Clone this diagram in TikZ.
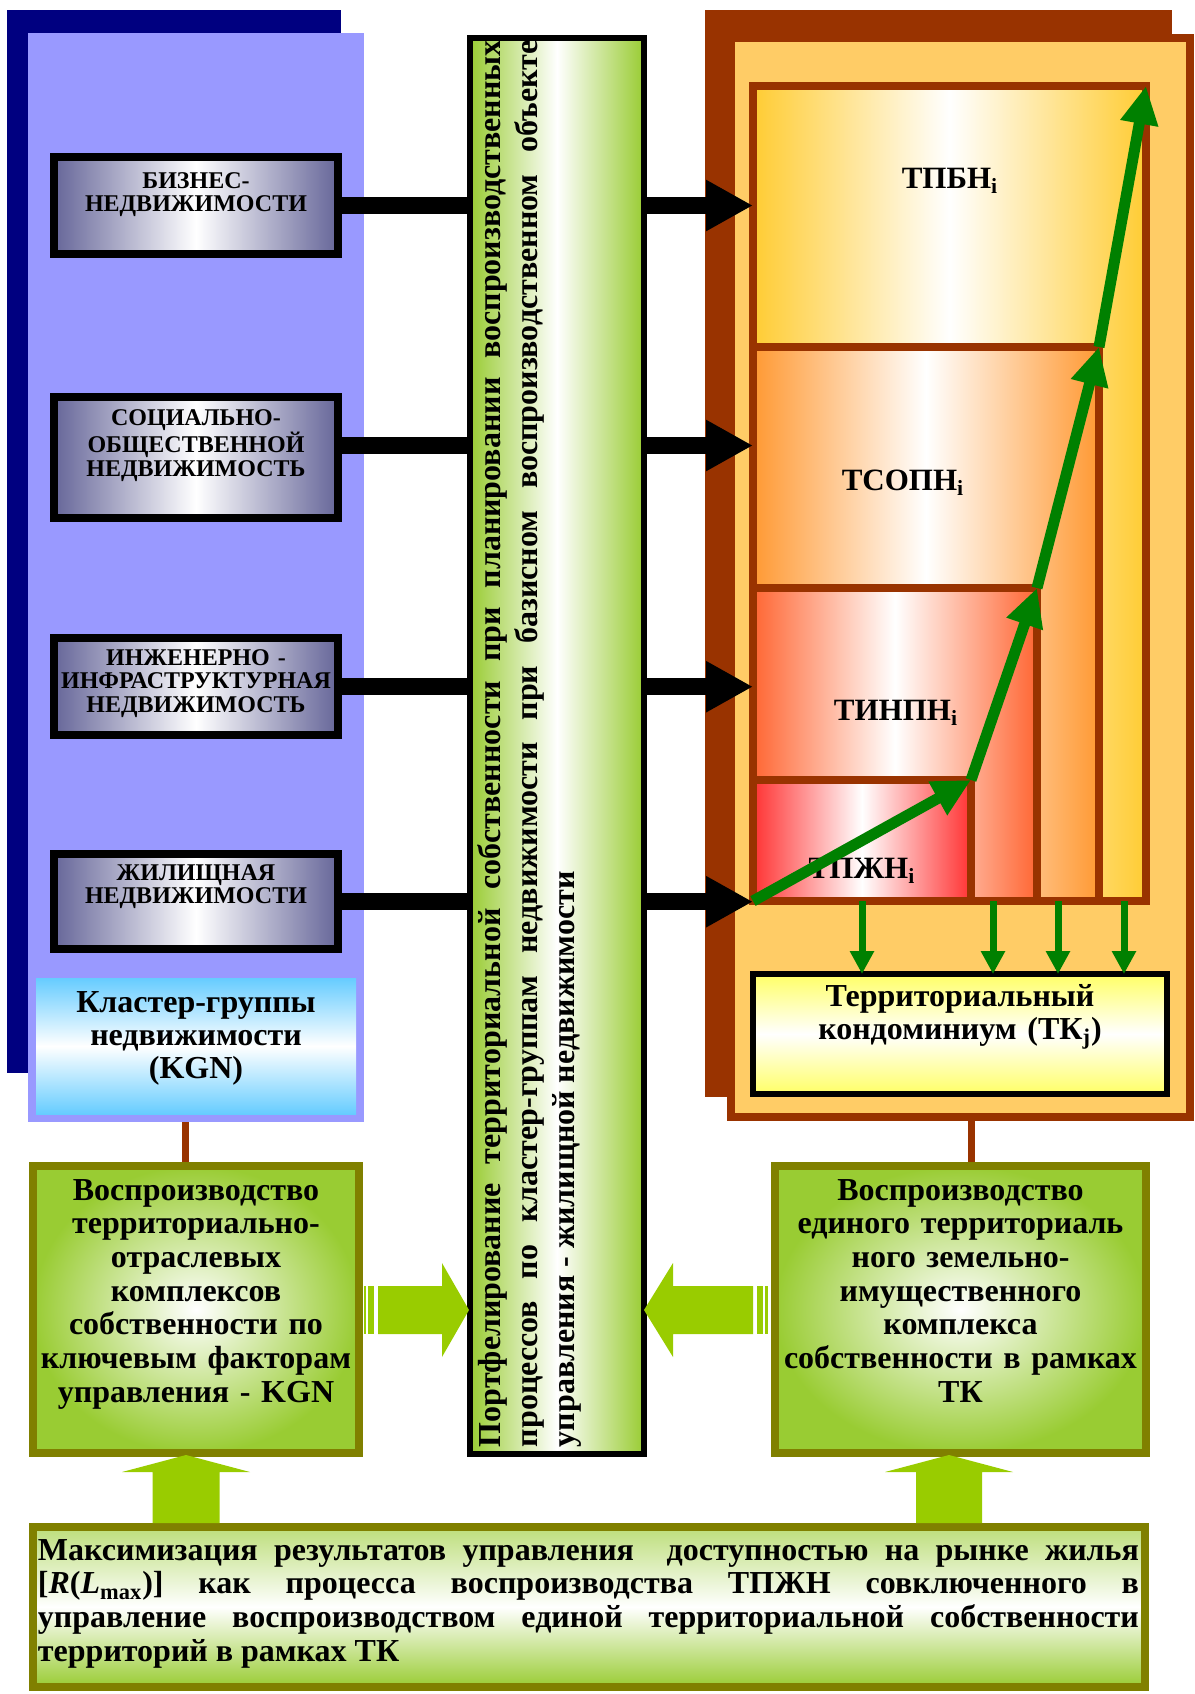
\documentclass[tikz,border=0pt]{standalone}
\usepackage{fontspec}
\setmainfont{Liberation Serif}
\usetikzlibrary{arrows.meta,calc}

\definecolor{navy}{HTML}{000080}
\definecolor{lavender}{HTML}{9999FF}
\definecolor{slate}{HTML}{666699}
\definecolor{sky}{HTML}{66CCFF}
\definecolor{lime}{HTML}{99CC33}
\definecolor{oliveline}{HTML}{808000}
\definecolor{rust}{HTML}{993300}
\definecolor{peach}{HTML}{FFCC66}
\definecolor{gold}{HTML}{FFCC33}
\definecolor{amber}{HTML}{FF9933}
\definecolor{tangerine}{HTML}{FF6633}
\definecolor{scarlet}{HTML}{FF3333}
\definecolor{lemon}{HTML}{FFFF66}
\definecolor{leaf}{HTML}{008000}
\definecolor{chartreuse}{HTML}{99CC00}

\begin{document}
\begin{tikzpicture}[x=0.5pt,y=-0.5pt,
  every node/.style={inner sep=0pt, outer sep=0pt},
  greybox/.style={draw=black, line width=4pt, left color=slate, right color=slate, middle color=white, minimum width=142pt},
  greytext/.style={anchor=base, text width=150pt, align=center, font=\fontsize{12}{11.75}\selectfont\bfseries},
  bigtext/.style={anchor=base, text width=#1, align=center, font=\fontsize{16}{16.85}\selectfont\bfseries},
  tier/.style={draw=rust, line width=4pt},
  tierlabel/.style={anchor=base, font=\fontsize{15.5}{18}\selectfont\bfseries},
  flow/.style={draw=black, line width=8.5pt, -{Triangle[length=23.5pt,width=24pt]}},
  rise/.style={draw=leaf, line width=5.5pt, -{Triangle[length=19pt,width=18pt]}},
  drop/.style={draw=leaf, line width=3.5pt, -{Triangle[length=11.5pt,width=11.5pt]}},
  tie/.style={draw=rust, line width=3.5pt},
  greenbox/.style={draw=oliveline, line width=4pt, inner color=white, outer color=lime},
  block/.style={fill=chartreuse},
]
\useasboundingbox (0,0) rectangle (1195,1694);

% ---- ends of the ties between the panels and the green boxes
\coordinate (tieL) at (185.5,1112);
\coordinate (tieR) at (971.5,1100);

% ---- ties (drawn under the panels)
\draw[tie] (tieL) -- (185.5,1162) coordinate (tieLend);
\draw[tie] (tieR) -- (971.5,1162) coordinate (tieRend);

% ---- left panel
\fill[navy] (7,10) rectangle (341,1073);
\fill[lavender] (28,33) rectangle (364,1122);

% ---- right panel
\fill[rust] (705,10) rectangle (1172,1097);
\draw[rust, fill=peach, line width=4pt] (731,37.5) rectangle (1189.5,1117);

% ---- stacked property tiers
\node[tier, left color=gold, right color=gold, middle color=white,
      minimum width=196.5pt, minimum height=407.5pt] (r1) at (949.5,493.5) {};
\node[tier, left color=amber, right color=amber, middle color=white,
      minimum width=173pt, minimum height=277pt] (r2) at (926,624) {};
\node[tier, left color=tangerine, right color=tangerine, middle color=white,
      minimum width=142pt, minimum height=156.5pt] (r3) at (895,744.5) {};
\node[tier, left color=scarlet, right color=scarlet, middle color=white,
      minimum width=109pt, minimum height=60.5pt] (r4) at (862,840.5) {};

\node[tierlabel] (l1) at (950,188) {ТПБН\textsubscript{i}};
\node[tierlabel] (l2) at (903,490) {ТСОПН\textsubscript{i}};
\node[tierlabel] (l3) at (896,720) {ТИНПН\textsubscript{i}};
\node[tierlabel] (l4) at (862,878) {ТПЖН\textsubscript{i}};

% ---- condominium box
\node[draw=black, line width=3pt, top color=lemon, bottom color=lemon, middle color=white,
      minimum width=207pt, minimum height=60pt] (tk) at (960,1034) {};
\node[bigtext=205pt, font=\fontsize{16}{16.5}\selectfont\bfseries] (tktext) at (960,1006)
  {Территориальный\\кондоминиум (ТК\textsubscript{j})};

\foreach \xx in {862,993,1058,1124}
  \draw[drop] (r1.south -| \xx,0) -- (tk.north -| \xx,0);

% ---- rising path through the tiers
\draw[rise] (r4.south west) -- (r4.north east);
\draw[rise] (r4.north east) -- (r3.north east);
\draw[rise] (r3.north east) -- (r2.north east);
\draw[rise] (r2.north east) -- (r1.north east);

% ---- property groups
\node[greybox, minimum height=48.2pt] (b1) at (196,205.5) {};
\node[greybox, minimum height=60.2pt] (b2) at (196,457.5) {};
\node[greybox, minimum height=48.6pt] (b3) at (196,686.7) {};
\node[greybox, minimum height=47.7pt] (b4) at (196,901.7) {};

\draw[flow] (b1.east) -- (b1.east -| r1.west);
\draw[flow] ($(b2.east)+(0,-12)$) -- ($(b2.east -| r1.west)+(0,-12)$);
\draw[flow] (b3.east) -- (b3.east -| r1.west);
\draw[flow] (b4.east) -- (b4.east -| r1.west);

\node[greytext] (t1) at (196,188) {БИЗНЕС-\\НЕДВИЖИМОСТИ};
\node[greytext] (t2) at (196,425) {СОЦИАЛЬНО-\\ОБЩЕСТВЕННОЙ\\НЕДВИЖИМОСТЬ};
\node[greytext] (t3) at (196,665) {ИНЖЕНЕРНО -\\ИНФРАСТРУКТУРНАЯ\\НЕДВИЖИМОСТЬ};
\node[greytext] (t4) at (196,880) {ЖИЛИЩНАЯ\\НЕДВИЖИМОСТИ};

% ---- central portfolio bar
\node[draw=black, line width=3pt, left color=lime, right color=lime, middle color=white,
      minimum width=87pt, minimum height=708pt] (bar) at (557,746) {};
\node[rotate=90, anchor=base west, text width=703.5pt, align=justify,
      font=\fontsize{16}{18.5}\selectfont\bfseries] (bartext) at (500,1447)
  {Портфелирование территориальной собственности при планировании воспроизводственных\linebreak
   процессов по кластер-группам недвижимости при базисном воспроизводственном объекте\linebreak
   управления - жилищной недвижимости};

% ---- cluster groups
\node[top color=sky, bottom color=sky, middle color=white,
      minimum width=160pt, minimum height=68pt] (kgn) at (196,1046) {};
\node[bigtext=160pt, font=\fontsize{16}{16.5}\selectfont\bfseries] (kgntext) at (196,1012)
  {Кластер-группы\\недвижимости\\(KGN)};

% ---- reproduction boxes
\node[greenbox, minimum width=163pt, minimum height=143.5pt] (gl) at (196,1309.5) {};
\node[bigtext=162pt] (gltext) at (196,1200)
  {Воспроизводство\\территориально-\\отраслевых\\комплексов\\собственности по\\ключевым факторам\\управления - KGN};
\node[greenbox, minimum width=185.5pt, minimum height=143.5pt] (gr) at (960.5,1309.5) {};
\node[bigtext=184pt] (grtext) at (960.5,1200)
  {Воспроизводство\\единого территориаль\\ного земельно-\\имущественного\\комплекса\\собственности в рамках\\ТК};

% ---- striped block arrows towards the bar
\fill[block] (378,1286) -- (442,1286) -- (442,1263) -- (469,1310) -- (442,1357) -- (442,1334) -- (378,1334) -- cycle;
\fill[block] (368,1286) rectangle (374,1334);
\fill[block] (364,1286) rectangle (366,1334);
\fill[block] (753,1286) -- (673,1286) -- (673,1263) -- (644,1310) -- (673,1357) -- (673,1334) -- (753,1334) -- cycle;
\fill[block] (757,1286) rectangle (763,1334);
\fill[block] (765,1286) rectangle (768,1334);

% ---- goal box
\node[draw=oliveline, line width=4pt, top color=lime!65!white, bottom color=lime, middle color=white,
      minimum width=556pt, minimum height=80pt] (goal) at (589,1607) {};
\node[anchor=base west, text width=550.5pt, align=justify,
      font=\fontsize{16}{16.9}\selectfont\bfseries] (goaltext) at (38,1560)
  {Максимизация результатов управления\ \ доступностью на рынке жилья\linebreak{}[\textit{R}(\textit{L}\textsubscript{max})] как процесса воспроизводства ТПЖН совключенного в\linebreak{}управление воспроизводством единой территориальной собственности\linebreak{}территорий в рамках ТК};

% ---- upward block arrows
\fill[block] (152.5,1523) -- (152.5,1472) -- (122,1472) -- (186,1455) -- (250,1472) -- (219.5,1472) -- (219.5,1523) -- cycle;
\fill[block] (916,1523) -- (916,1472) -- (885,1472) -- (949,1455) -- (1013,1472) -- (982,1472) -- (982,1523) -- cycle;
\end{tikzpicture}
\end{document}
